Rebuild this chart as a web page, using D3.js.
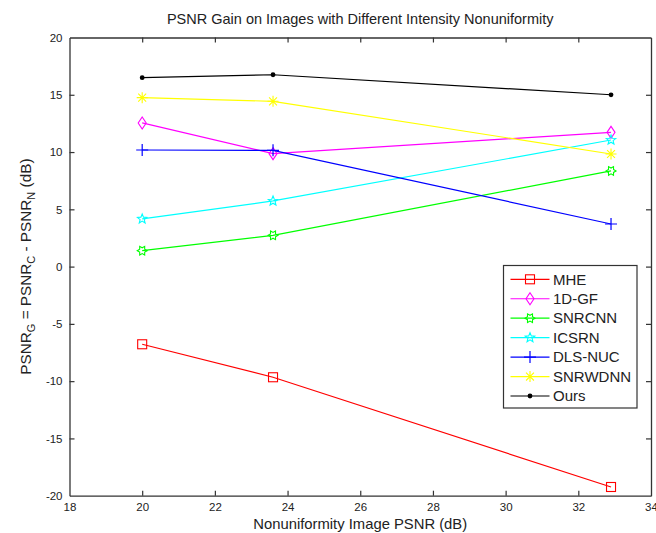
<!DOCTYPE html>
<html>
<head>
<meta charset="utf-8">
<script src="https://cdn.jsdelivr.net/npm/d3@7"></script>
<style>
  html, body { margin: 0; padding: 0; background: #fff; }
  svg { display: block; font-family: "Liberation Sans", Arial, sans-serif; }
</style>
</head>
<body>
<svg id="chart" width="656" height="533"></svg>
<script>
// Nonuniformity image PSNR (dB) for the three test images
const xValues = [20, 23.6, 32.9];

const seriesNames = ["MHE", "1D-GF", "SNRCNN", "ICSRN", "DLS-NUC", "SNRWDNN", "Ours"];
const seriesColors = ["#ff0000", "#ff00ff", "#00ff00", "#00ffff", "#0000ff", "#ffff00", "#000000"];
const seriesMarkers = ["square", "diamond", "hexagram", "pentagram", "plus", "asterisk", "dot"];

// PSNR gain (dB) of each method
const mheValues     = [-6.78, -9.66, -19.24];
const gfValues      = [12.54, 9.86, 11.72];
const snrcnnValues  = [1.39, 2.73, 8.35];
const icsrnValues   = [4.16, 5.73, 11.05];
const dlsnucValues  = [10.18, 10.15, 3.72];
const snrwdnnValues = [14.75, 14.43, 9.83];
const oursValues    = [16.49, 16.75, 15.0];

const xTicks = [18, 20, 22, 24, 26, 28, 30, 32, 34];
const yTicks = [-20, -15, -10, -5, 0, 5, 10, 15, 20];

const seriesValues = [mheValues, gfValues, snrcnnValues, icsrnValues, dlsnucValues, snrwdnnValues, oursValues];

const svg = d3.select("#chart");
const plotLeft = 69.5, plotRight = 651, plotTop = 37.5, plotBottom = 495.7;

const x = d3.scaleLinear().domain([18, 34]).range([plotLeft, plotRight]);
const y = d3.scaleLinear().domain([-20, 20]).range([plotBottom, plotTop]);

const axisColor = "#333";
const tickLen = 5;
const plainNumber = d => String(d);

// Axes with inward ticks on all four sides
const gBottom = svg.append("g").attr("transform", `translate(0,${plotBottom})`)
  .call(d3.axisBottom(x).tickValues(xTicks).tickSizeInner(-tickLen).tickSizeOuter(0).tickPadding(7).tickFormat(plainNumber));
const gTop = svg.append("g").attr("transform", `translate(0,${plotTop})`)
  .call(d3.axisTop(x).tickValues(xTicks).tickSizeInner(-tickLen).tickSizeOuter(0).tickFormat(""));
const gLeft = svg.append("g").attr("transform", `translate(${plotLeft},0)`)
  .call(d3.axisLeft(y).tickValues(yTicks).tickSizeInner(-tickLen).tickSizeOuter(0).tickPadding(7).tickFormat(plainNumber));
const gRight = svg.append("g").attr("transform", `translate(${plotRight},0)`)
  .call(d3.axisRight(y).tickValues(yTicks).tickSizeInner(-tickLen).tickSizeOuter(0).tickFormat(""));

[gBottom, gTop, gLeft, gRight].forEach(g => {
  g.select(".domain").attr("stroke", axisColor).attr("stroke-width", 1.3);
  g.selectAll(".tick line").attr("stroke", axisColor).attr("stroke-width", 1.2);
  g.selectAll(".tick text").attr("fill", "#222").attr("font-size", 11.5)
    .attr("font-family", "'Liberation Sans', Arial, sans-serif");
});
// end ticks sitting on the box edges are not drawn
[gBottom, gTop].forEach(g => g.selectAll(".tick line").filter(d => d === 18 || d === 34).remove());
[gLeft, gRight].forEach(g => g.selectAll(".tick line").filter(d => d === -20 || d === 20).remove());

// Marker shapes
function drawMarker(g, type, cx, cy, color) {
  const s = 4.5;
  if (type === "square") {
    g.append("rect").attr("x", cx - s).attr("y", cy - s).attr("width", 2 * s).attr("height", 2 * s)
      .attr("fill", "none").attr("stroke", color).attr("stroke-width", 1.1);
  } else if (type === "diamond") {
    g.append("path").attr("d", `M${cx},${cy - 6}L${cx + 4},${cy}L${cx},${cy + 6}L${cx - 4},${cy}Z`)
      .attr("fill", "none").attr("stroke", color).attr("stroke-width", 1.1);
  } else if (type === "hexagram" || type === "pentagram") {
    const n = type === "hexagram" ? 6 : 5;
    const R = 5, r = type === "hexagram" ? 2.9 : 2.2;
    const pts = [];
    for (let i = 0; i < 2 * n; i++) {
      const a = -Math.PI / 2 + i * Math.PI / n + (type === "hexagram" ? Math.PI / 2 : 0);
      const rad = i % 2 === 0 ? R : r;
      pts.push([cx + rad * Math.cos(a), cy + rad * Math.sin(a)]);
    }
    g.append("path").attr("d", "M" + pts.map(p => p.join(",")).join("L") + "Z")
      .attr("fill", "none").attr("stroke", color).attr("stroke-width", 1.1);
  } else if (type === "plus") {
    g.append("path").attr("d", `M${cx - 6},${cy}H${cx + 6}M${cx},${cy - 6}V${cy + 6}`)
      .attr("stroke", color).attr("stroke-width", 1.2);
  } else if (type === "asterisk") {
    const r = 5.5, d = r * 0.72;
    g.append("path").attr("d", `M${cx - r},${cy}H${cx + r}M${cx},${cy - r}V${cy + r}M${cx - d},${cy - d}L${cx + d},${cy + d}M${cx - d},${cy + d}L${cx + d},${cy - d}`)
      .attr("stroke", color).attr("stroke-width", 1.1);
  } else if (type === "dot") {
    g.append("circle").attr("cx", cx).attr("cy", cy).attr("r", 2.4).attr("fill", color);
  }
}

const line = d3.line().x((d, i) => x(xValues[i])).y(d => y(d));

seriesValues.forEach((vals, si) => {
  const g = svg.append("g");
  g.append("path").attr("d", line(vals)).attr("fill", "none")
    .attr("stroke", seriesColors[si]).attr("stroke-width", 1.2);
  vals.forEach((v, i) => drawMarker(g, seriesMarkers[si], x(xValues[i]), y(v), seriesColors[si]));
});

// Title and axis labels
svg.append("text").attr("x", (plotLeft + plotRight) / 2).attr("y", 24).attr("text-anchor", "middle")
  .attr("font-size", 14.5).attr("fill", "#222")
  .text("PSNR Gain on Images with Different Intensity Nonuniformity");

svg.append("text").attr("x", (plotLeft + plotRight) / 2).attr("y", 529).attr("text-anchor", "middle")
  .attr("font-size", 14.8).attr("fill", "#222")
  .text("Nonuniformity Image PSNR (dB)");

const yLabel = svg.append("text")
  .attr("transform", `translate(31,${(plotTop + plotBottom) / 2}) rotate(-90)`)
  .attr("text-anchor", "middle").attr("font-size", 15.3).attr("fill", "#222");
yLabel.append("tspan").text("PSNR");
yLabel.append("tspan").attr("font-size", 11).attr("dy", 4).text("G");
yLabel.append("tspan").attr("dy", -4).text(" = PSNR");
yLabel.append("tspan").attr("font-size", 11).attr("dy", 4).text("C");
yLabel.append("tspan").attr("dy", -4).text(" - PSNR");
yLabel.append("tspan").attr("font-size", 11).attr("dy", 4).text("N");
yLabel.append("tspan").attr("dy", -4).text(" (dB)");

// Legend
const lg = svg.append("g");
const lx = 503.5, ly = 265.5, lw = 133.5, lh = 142.5;
lg.append("rect").attr("x", lx).attr("y", ly).attr("width", lw).attr("height", lh)
  .attr("fill", "#fff").attr("stroke", axisColor).attr("stroke-width", 1.2);
seriesNames.forEach((name, i) => {
  const cy = 279.3 + i * 19.45;
  lg.append("line").attr("x1", 510.5).attr("x2", 549.5).attr("y1", cy).attr("y2", cy)
    .attr("stroke", seriesColors[i]).attr("stroke-width", 1.2);
  drawMarker(lg, seriesMarkers[i], 530, cy, seriesColors[i]);
  lg.append("text").attr("x", 553).attr("y", cy + 5.2).attr("font-size", 15).attr("fill", "#222").text(name);
});
</script>
</body>
</html>
